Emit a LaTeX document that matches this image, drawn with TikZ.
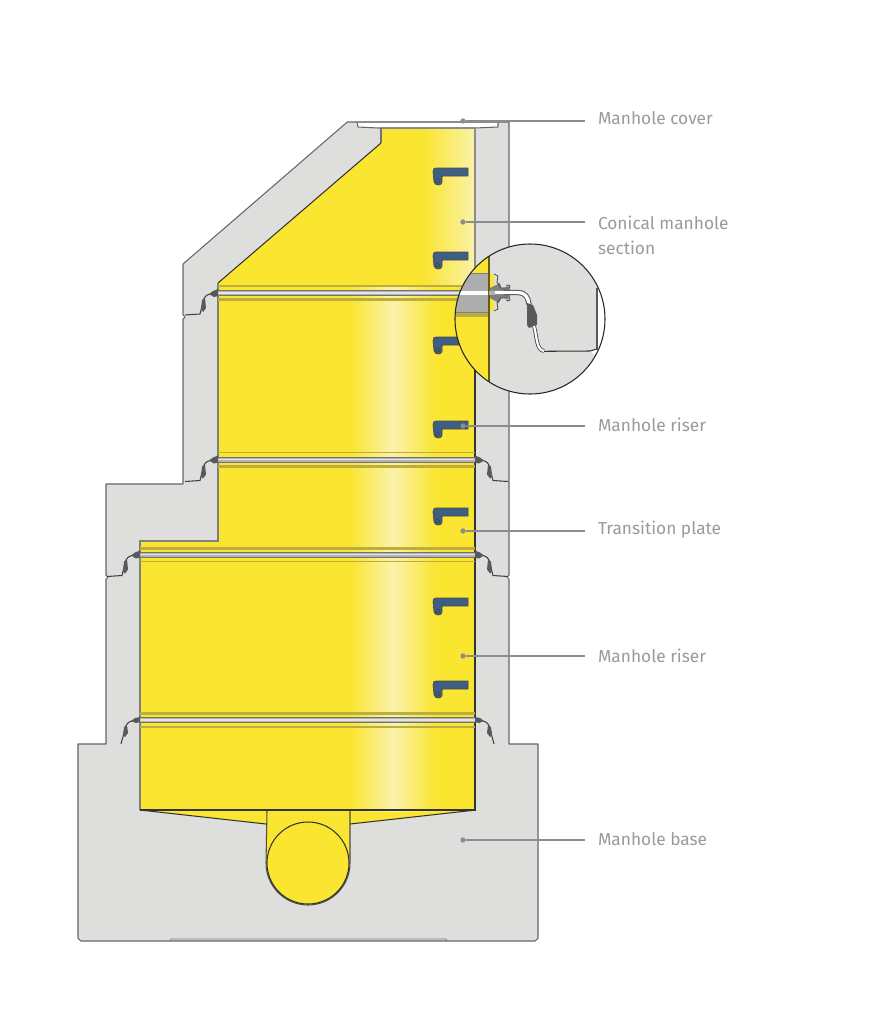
\documentclass[tikz,border=0pt]{standalone}
\usepackage{fontspec}
\setmainfont{Fira Sans}
\usepackage{tikz}
\definecolor{shaftyellow}{HTML}{FAE530}
\definecolor{shaftpale}{HTML}{FAF2AC}
\definecolor{concrete}{HTML}{DEDEDC}
\definecolor{rungblue}{HTML}{3F5F82}
\definecolor{bandolive}{HTML}{BDAC3E}
\definecolor{labelgray}{HTML}{9A9A9A}
\tikzset{
  wall/.style={draw=black!60, line width=0.6pt, line join=round},
  edge/.style={draw=black!80, line width=0.6pt},
  leader/.style={draw=black!45, line width=0.6pt},
  leaderdot/.style={circle, fill=black!45, inner sep=0pt, minimum size=3pt},
  manlabel/.style={anchor=west, inner sep=0pt, outer xsep=7.4pt, align=left, text=labelgray,
    font=\fontsize{9.85}{14.2}\selectfont},
  rung/.pic={
    \draw[fill=rungblue, draw=black!70, line width=0.4pt]
      (3,0) -- (35,0) -- (35,8) -- (10,8) .. controls (9,8) and (9,9) .. (9,10) -- (9,14)
      .. controls (9,18) and (2,18) .. (1,14) -- (0,4) .. controls (0,1) and (1,0) .. (3,0) -- cycle;
    \draw[black!75, line width=0.3pt] (4.5,13) circle[radius=2];
  },
  gasket/.pic={
    \draw[black!75, line width=0.6pt] (0,-1) -- (8,1) .. controls (12,2) and (14,4) .. (15,9)
      -- (18,21) -- (33,22);
    \fill[black!65] (0,-4) -- (5,-2) -- (9,1) -- (4,4) -- (0,3) -- cycle;
    \fill[black!65] (13,5) -- (16,7) -- (17,17) -- (15,19) -- (12,15) -- cycle;
  },
  lowgasket/.pic={
    \draw[black!75, line width=0.6pt] (0,-1) -- (8,1) .. controls (12,2) and (14,4) .. (15,9)
      -- (19,24);
    \fill[black!65] (0,-3) -- (5,-2) -- (9,1) -- (4,3) -- (0,2) -- cycle;
    \fill[black!65] (13,5) -- (16,7) -- (17,15) -- (15,17) -- (12,13) -- cycle;
  },
  jointband/.pic={
    \draw[bandolive, line width=0.6pt] (0,-7) -- (1,-7);
    \fill[bandolive] (0,5) rectangle (1,8);
    \fill[black!30] (0,-2.5) rectangle (1,2.5);
    \fill[white!90!black] (0,-0.8) rectangle (1,0.8);
    \draw[black!55, line width=0.4pt] (0,-2.5) -- (1,-2.5) (0,2.5) -- (1,2.5);
  },
}

\begin{document}
\begin{tikzpicture}[x=0.02cm, y=-0.02cm]
\useasboundingbox (0,0) rectangle (869,1024);

% Concrete Body
\draw[wall, fill=concrete] (345,124)--(347,122)--(357,122)--(358,127)--(378,128)--(475,128)--(498,127)--(498,122)--(509,122)
  --(509,575)--(507,577)--(509,579)--(509,744)--(538,744)--(538,938)--(535,941)--(81,941)--(78,938)--(78,744)--(106,744)
  --(106,579)--(108,577)--(106,575)--(106,484)--(183,484)--(183,319)--(185,317)--(183,315)--(183,264)--cycle;
\draw[black!50, line width=0.5pt] (170,941)--(171,939)--(446,939)--(447,941);

% Shaft
\begin{scope}
\clip (381,128)--(475,128)--(475,810)--(350,824)--(350,863) arc[start angle=0, end angle=180, radius=42]
  --(266,824)--(140,810)--(140,541)--(218,541)--(218,283)--(381,143)--cycle;
\fill[shaftyellow] (130,120) rectangle (480,910);
\shade[left color=shaftyellow, right color=shaftpale] (423,120) rectangle (476,286);
\shade[left color=shaftyellow, right color=shaftpale] (350,286) rectangle (393,811);
\shade[left color=shaftpale, right color=shaftyellow] (393,286) rectangle (436,811);
\end{scope}

% Shaft Walls
\draw[black!45, line width=0.6pt] (381,128)--(475,128)--(475,285);
\draw[black!55, line width=0.6pt] (381,128)--(381,143);
\draw[edge] (381,143)--(218,283);
\draw[black!50, line width=0.6pt] (218,283)--(218,541)--(140,541)--(140,810);
\draw[edge] (475,285)--(475,810);
\draw[edge] (140,810)--(476,810);
\draw[edge] (140,810)--(266,824);
\draw[edge] (476,810)--(350,824);
\draw[black!70, line width=0.6pt] (267,811)--(266,863) arc[start angle=180, end angle=0, radius=42]--(350,811);
\draw[edge] (308,863) circle[radius=41];

% Joints
\pic[xscale=257] at (218,293) {jointband};
\pic[xscale=257] at (218,459.5) {jointband};
\pic[xscale=335, yscale=-1] at (140,554.5) {jointband};
\pic[xscale=335, yscale=-1] at (140,720) {jointband};
\pic[xscale=-1] at (218,293) {gasket};
\pic at (475,459.5) {gasket};
\pic[xscale=-1] at (218,459.5) {gasket};
\pic at (475,554.5) {gasket};
\pic[xscale=-1] at (140,554.5) {gasket};
\pic at (475,720) {lowgasket};
\pic[xscale=-1] at (140,720) {lowgasket};

% Rungs
\pic at (433,168) {rung};
\pic at (433,252) {rung};
\pic at (433,337) {rung};
\pic at (433,421) {rung};
\pic at (433,508) {rung};
\pic at (433,598) {rung};
\pic at (433,681) {rung};

% Magnified Joint
\begin{scope}
\clip (530,319) circle[radius=75];
\fill[concrete] (450,240) rectangle (610,400);
\fill[white] (597,288) rectangle (610,350);
\fill[white] (590,351)--(598,349)--(595,355)--cycle;
\fill[shaftyellow] (450,240) rectangle (489,400);
\fill[bandolive] (450,312) rectangle (489,317);
\fill[black!32] (450,273) rectangle (489,312);
\draw[black!50, line width=0.5pt] (450,273)--(489,273) (450,312)--(489,312);
\fill[white] (450,290.5) rectangle (489,294.5);
\draw[black!60!shaftyellow, line width=0.8pt] (489,240)--(489,400);
\fill[shaftyellow] (490,274) rectangle (494,311);
\fill[black!50] (490,288)--(500,283)--(501,288)--(510,287)--(510,298)--(501,298)--(499,303)--(490,298)--cycle;
\draw[black!70, line width=0.5pt] (494,274)--(498,276)--(497,282)--(501,288)--(507,288)--(507,285)--(510,286)--(509,288)
  (494,311)--(498,309)--(497,303)--(501,298)--(507,298)--(507,301)--(510,300)--(509,298);
\draw[black!70, line width=3pt, line cap=round] (505,292.5)--(518,292.5) .. controls (525,292.5) and (528,297) .. (529,304);
\draw[white, line width=1.9pt] (490,292.5)--(518,292.5) .. controls (525,292.5) and (528,297) .. (529,304);
\fill[white!70!black] (489,290.5) rectangle (495,294.5);
\fill[black!65] (527,303)--(533,305)--(537,315)--(537,325)--(529,328)--(527,325)--cycle;
\draw[black!70, line width=2.2pt] (534,326) .. controls (537,336) and (536,350) .. (544,351);
\draw[white, line width=1.2pt] (534,326) .. controls (537,336) and (536,350) .. (544,351);
\draw[edge] (544,351.3)--(590,351)--(597,349);
\draw[black!65, line width=0.6pt] (597,288)--(597,350);
\end{scope}
\draw[black!85, line width=0.6pt] (530,319) circle[radius=75];

% Cover Line
\draw[black!45, line width=0.7pt] (357,122)--(498,122);

% Labels
\node[manlabel] (lblcover) at (585,118) {Manhole cover};
\node[manlabel] (lblcone) at (585,235.5) {Conical manhole\\section};
\node[manlabel] (lblriserA) at (585,425) {Manhole riser};
\node[manlabel] (lblplate) at (585,530) {Transition plate};
\node[manlabel] (lblriserB) at (585,656) {Manhole riser};
\node[manlabel] (lblbase) at (585,839) {Manhole base};

\node[leaderdot] (dotcover) at (463,121) {};
\node[leaderdot] (dotcone) at (463,222) {};
\node[leaderdot] (dotriserA) at (463,426) {};
\node[leaderdot] (dotplate) at (463,531) {};
\node[leaderdot] (dotriserB) at (463,656) {};
\node[leaderdot] (dotbase) at (463,840) {};

\draw[leader] (dotcover) -- (dotcover -| lblcover.west);
\draw[leader] (dotcone) -- (dotcone -| lblcone.west);
\draw[leader] (dotriserA) -- (dotriserA -| lblriserA.west);
\draw[leader] (dotplate) -- (dotplate -| lblplate.west);
\draw[leader] (dotriserB) -- (dotriserB -| lblriserB.west);
\draw[leader] (dotbase) -- (dotbase -| lblbase.west);

\end{tikzpicture}
\end{document}
